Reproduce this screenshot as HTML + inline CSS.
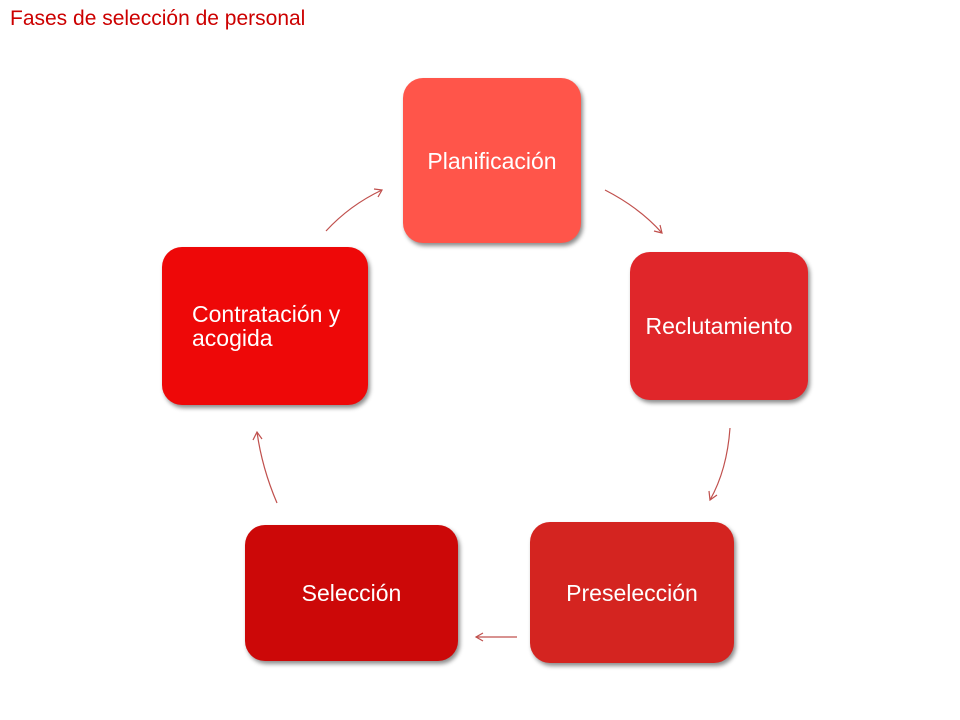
<!DOCTYPE html>
<html><head><meta charset="utf-8"><style>
body{margin:0;width:960px;height:720px;background:#fff;position:relative;overflow:hidden;font-family:"Liberation Sans",Arial,sans-serif}
.t{position:absolute;left:10px;top:7px;font-size:21px;color:#cc0000}
.b{position:absolute;border-radius:20px;color:#fff;font-size:23px;display:flex;align-items:center;justify-content:center;text-align:center;box-shadow:2px 3px 4px rgba(0,0,0,.45);line-height:24px}
</style></head><body>
<div class="t">Fases de selección de personal</div>
<div class="b" style="left:403px;top:78px;width:178px;height:165px;background:#ff554a">Planificación</div>
<div class="b" style="left:630px;top:252px;width:178px;height:148px;background:#e0262a">Reclutamiento</div>
<div class="b" style="left:530px;top:522px;width:204px;height:141px;background:#d42420">Preselección</div>
<div class="b" style="left:245px;top:525px;width:213px;height:136px;background:#cc0808">Selección</div>
<div class="b" style="left:162px;top:247px;width:206px;height:158px;background:#ee0808;justify-content:flex-start;padding-left:30px;box-sizing:border-box;text-align:left">Contratación y<br>acogida</div>
<svg width="960" height="720" style="position:absolute;left:0;top:0" fill="none" stroke="#c0504d" stroke-width="1.2">
<path d="M605 190 Q640 208 662 233"/><path d="M654 231 L662 233 L660 225"/>
<path d="M730 428 Q727 470 710 500"/><path d="M709 491 L710 500 L717 495"/>
<path d="M517 637 L476 637"/><path d="M483 633 L476 637 L483 641"/>
<path d="M277 503 Q262 468 257 432"/><path d="M253 440 L257 432 L262 439"/>
<path d="M326 231 Q350 205 382 190"/><path d="M374 189 L382 190 L378 197"/>
</svg>
</body></html>
